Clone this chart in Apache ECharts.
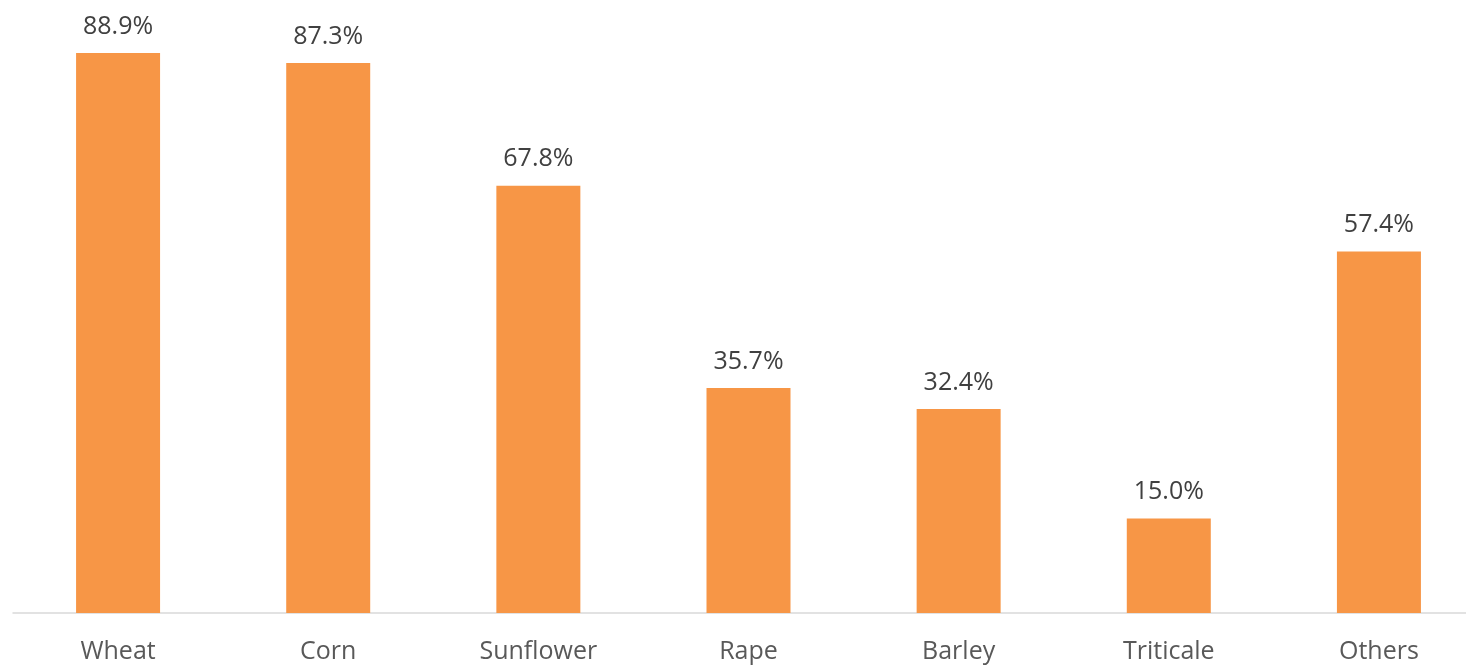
<!DOCTYPE html>
<html>
<head>
<meta charset="utf-8">
<script src="https://cdn.jsdelivr.net/npm/echarts@6/dist/echarts.min.js"></script>
<style>html,body{margin:0;padding:0;background:#fff}#c{width:1466px;height:665px}</style>
</head>
<body>
<div id="c"></div>
<script>
const categories = ["Wheat", "Corn", "Sunflower", "Rape", "Barley", "Triticale", "Others"];
const values = [88.9, 87.3, 67.8, 35.7, 32.4, 15.0, 57.4];

const chart = echarts.init(document.getElementById('c'), null, {renderer: 'canvas'});
chart.setOption({
  animation: false,
  grid: {left: 13, top: 46, width: 1471, height: 567, containLabel: false, outerBoundsMode: 'none'},
  xAxis: {
    type: 'category',
    data: categories,
    axisLine: {lineStyle: {color: '#D9D9D9', width: 1.5}},
    axisTick: {show: false},
    axisLabel: {color: '#595959', fontFamily: 'Open Sans', fontSize: 25, margin: 26}
  },
  yAxis: {
    type: 'value', min: 0, max: 90, show: false,
    splitLine: {show: false}
  },
  series: [{
    type: 'bar',
    data: values,
    barWidth: 84,
    itemStyle: {color: '#F79646'},
    label: {
      show: true, position: 'top', distance: 14,
      color: '#404040', fontFamily: 'Open Sans', fontSize: 25,
      formatter: p => p.value.toFixed(1) + '%'
    }
  }]
});
</script>
</body>
</html>
